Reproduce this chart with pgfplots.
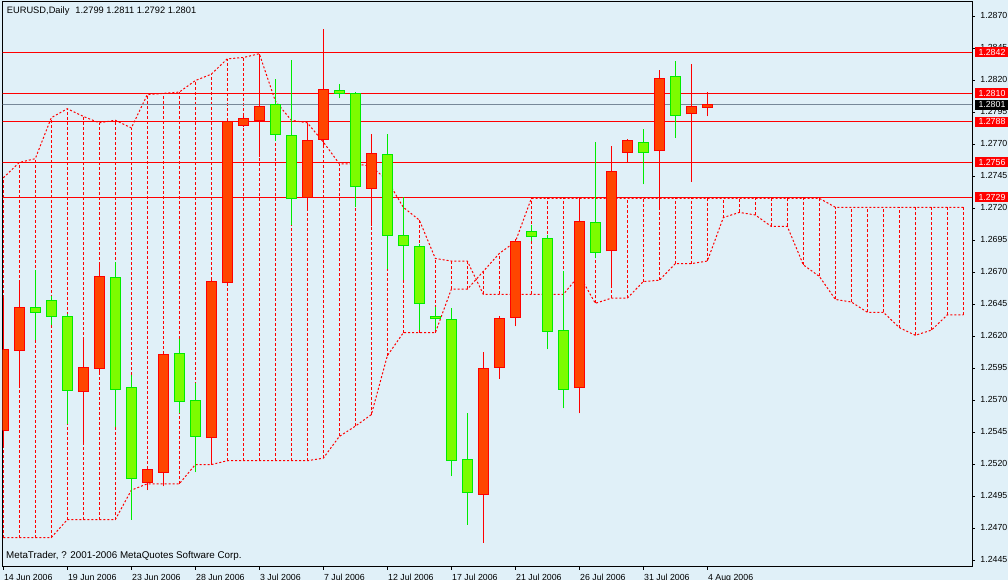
\documentclass[border=0pt]{standalone}
\usepackage{pgfplots}
\usepackage{pgfplotstable}
\pgfplotsset{compat=1.18}
\usepackage{fontspec}
\setmainfont{Liberation Sans}
\definecolor{bg}{RGB}{224,240,248}
\definecolor{upfill}{RGB}{255,69,0}
\definecolor{upline}{RGB}{255,0,0}
\definecolor{dnfill}{RGB}{124,252,0}
\definecolor{dnline}{RGB}{0,235,0}
\definecolor{bidline}{RGB}{119,136,153}
\newcommand\mtfont{\fontsize{8.8}{10}\selectfont}

% bullish candles (close > open), drawn red
\pgfplotstableread{
k o h l c
0 1.2547 1.2650 1.2534 1.2610
1 1.2609 1.2664 1.2581 1.2643
5 1.2577 1.2620 1.2538 1.2596
6 1.2595 1.2678 1.2592 1.2667
9 1.2506 1.2518 1.2500 1.2516
10 1.2514 1.2608 1.2503 1.2606
13 1.2541 1.2665 1.2520 1.2663
14 1.2662 1.2790 1.2660 1.2788
15 1.2785 1.2792 1.2784 1.2790
16 1.2789 1.2840 1.2760 1.2800
19 1.2729 1.2787 1.2720 1.2773
20 1.2774 1.2860 1.2767 1.2813
23 1.2736 1.2778 1.2706 1.2763
30 1.2497 1.2608 1.2459 1.2595
31 1.2596 1.2636 1.2587 1.2634
32 1.2635 1.2696 1.2628 1.2694
36 1.2580 1.2728 1.2560 1.2710
38 1.2687 1.2769 1.2660 1.2749
39 1.2764 1.2774 1.2756 1.2773
41 1.2765 1.2828 1.2719 1.2822
43 1.2794 1.2833 1.2741 1.2800
44 1.2799 1.2811 1.2792 1.2801
}\bull
% bearish candles (close < open), drawn green
\pgfplotstableread{
k o h l c
2 1.2643 1.2672 1.2617 1.2639
3 1.2648 1.2652 1.2629 1.2636
4 1.2636 1.2638 1.2552 1.2578
7 1.2666 1.2678 1.2549 1.2579
8 1.2580 1.2590 1.2477 1.2509
11 1.2607 1.2618 1.2560 1.2569
12 1.2570 1.2584 1.2514 1.2542
17 1.2801 1.2821 1.2773 1.2778
18 1.2777 1.2836 1.2707 1.2728
21 1.2812 1.2817 1.2806 1.2810
22 1.2810 1.2811 1.2721 1.2737
24 1.2762 1.2778 1.2673 1.2699
25 1.2699 1.2729 1.2664 1.2691
26 1.2690 1.2692 1.2625 1.2646
27 1.2636 1.2643 1.2625 1.2634
28 1.2633 1.2642 1.2511 1.2523
29 1.2524 1.2560 1.2473 1.2498
33 1.2702 1.2707 1.2695 1.2698
34 1.2697 1.2699 1.2610 1.2624
35 1.2625 1.2671 1.2564 1.2579
37 1.2709 1.2772 1.2681 1.2686
40 1.2772 1.2782 1.2739 1.2764
42 1.2823 1.2835 1.2775 1.2793
}\bear
% Ichimoku cloud: senkou span A and B
\pgfplotstableread{
k a b
0 1.2744 1.2463
1 1.2756 1.2463
2 1.2759 1.2463
3 1.2791 1.2463
4 1.2798 1.2477
5 1.2792 1.2477
6 1.2787 1.2477
7 1.2789 1.2477
8 1.2783 1.2500
9 1.2809 1.2505
10 1.2810 1.2505
11 1.2811 1.2505
12 1.2820 1.2520
13 1.2825 1.2520
14 1.2837 1.2523
15 1.2838 1.2523
16 1.2841 1.2523
17 1.2804 1.2523
18 1.2789 1.2523
19 1.2787 1.2523
20 1.2772 1.2525
21 1.2755 1.2542
22 1.2755 1.2550
23 1.2753 1.2559
24 1.2742 1.2605
25 1.2721 1.2623
26 1.2711 1.2623
27 1.2681 1.2623
28 1.2679 1.2657
29 1.2679 1.2657
30 1.2653 1.2671
31 1.2653 1.2685
32 1.2653 1.2694
33 1.2653 1.2728
34 1.2653 1.2728
35 1.2653 1.2728
36 1.2668 1.2728
37 1.2646 1.2728
38 1.2650 1.2728
39 1.2650 1.2728
40 1.2663 1.2728
41 1.2664 1.2728
42 1.2677 1.2728
43 1.2677 1.2728
44 1.2679 1.2728
45 1.2713 1.2728
46 1.2717 1.2728
47 1.2715 1.2728
48 1.2706 1.2728
49 1.2706 1.2728
50 1.2676 1.2728
51 1.2667 1.2728
52 1.2649 1.2721
53 1.2647 1.2721
54 1.2639 1.2721
55 1.2639 1.2721
56 1.2627 1.2721
57 1.2621 1.2721
58 1.2625 1.2721
59 1.2637 1.2721
60 1.2637 1.2721
}\cloud

\begin{document}
\begin{tikzpicture}
\fill[bg] (0,0) rectangle (1008pt,580pt);
\begin{axis}[
  at={(2.7pt,13.3pt)}, anchor=south west,
  scale only axis, width=969.3pt, height=564.7pt,
  xmin=-0.0375, xmax=60.54, ymin=1.2440219, ymax=1.2881391,
  axis line style={black, line width=1pt},
  tick style={black, line width=1pt},
  major tick length=3pt, tick align=outside,
  xtick pos=left, ytick pos=right, yticklabel pos=right,
  xtick={0,4,8,12,16,20,24,28,32,36,40,44},
  xticklabels={14 Jun 2006,19 Jun 2006,23 Jun 2006,28 Jun 2006,3 Jul 2006,7 Jul 2006,12 Jul 2006,17 Jul 2006,21 Jul 2006,26 Jul 2006,31 Jul 2006,4 Aug 2006},
  ytick={1.2445,1.2470,1.2495,1.2520,1.2545,1.2570,1.2595,1.2620,1.2645,1.2670,1.2695,1.2720,1.2745,1.2770,1.2795,1.2820,1.2845,1.2870},
  scaled y ticks=false,
  minor tick num=0,
  xticklabel style={anchor=base west, inner sep=0pt, yshift=-10.4pt, xshift=0.6pt, font=\mtfont},
  yticklabel style={anchor=west, inner sep=0pt, xshift=5.2pt, yshift=1.2pt, font=\mtfont},
  /pgf/number format/fixed, /pgf/number format/fixed zerofill,
  /pgf/number format/precision=4, /pgf/number format/assume math mode=true,
]
% cloud verticals
\addplot[draw=none, mark=none, forget plot,
  error bars/.cd, y dir=plus, y explicit, error mark=none,
  error bar style={draw=upline, line width=1pt, dash pattern=on 3pt off 2pt}]
  table[x=k, y expr={min(\thisrow{a},\thisrow{b})}, y error expr={abs(\thisrow{a}-\thisrow{b})}] {\cloud};
% span lines
\addplot[upline, line width=1pt, dash pattern=on 2pt off 2pt, mark=none] table[x=k, y=a] {\cloud};
\addplot[upline, line width=1pt, dash pattern=on 2pt off 2pt, mark=none] table[x=k, y=b] {\cloud};
% horizontal lines
\addplot[bidline, line width=1pt, mark=none] coordinates {(-1,1.2801) (62,1.2801)};
\pgfplotsinvokeforeach{1.2842,1.2810,1.2788,1.2756,1.2729}{
  \addplot[upline, line width=1pt, mark=none] coordinates {(-1,#1) (62,#1)};
}
% wicks
\addplot[draw=none, mark=none, forget plot,
  error bars/.cd, y dir=plus, y explicit, error mark=none,
  error bar style={draw=upline, solid, line width=1pt}]
  table[x=k, y=l, y error expr={\thisrow{h}-\thisrow{l}}] {\bull};
\addplot[draw=none, mark=none, forget plot,
  error bars/.cd, y dir=plus, y explicit, error mark=none,
  error bar style={draw=dnline, solid, line width=1pt}]
  table[x=k, y=l, y error expr={\thisrow{h}-\thisrow{l}}] {\bear};
% bodies: border then fill
\addplot[draw=none, mark=none, forget plot,
  error bars/.cd, y dir=plus, y explicit, error mark=none,
  error bar style={draw=upline, solid, line width=10.7pt}]
  table[x=k, y expr={\thisrow{o}-0.00004}, y error expr={\thisrow{c}-\thisrow{o}+0.00008}] {\bull};
\addplot[draw=none, mark=none, forget plot,
  error bars/.cd, y dir=plus, y explicit, error mark=none,
  error bar style={draw=upfill, solid, line width=8.7pt}]
  table[x=k, y expr={\thisrow{o}+0.00004}, y error expr={\thisrow{c}-\thisrow{o}-0.00008}] {\bull};
\addplot[draw=none, mark=none, forget plot,
  error bars/.cd, y dir=plus, y explicit, error mark=none,
  error bar style={draw=dnline, solid, line width=10.7pt}]
  table[x=k, y expr={\thisrow{c}-0.00004}, y error expr={\thisrow{o}-\thisrow{c}+0.00008}] {\bear};
\addplot[draw=none, mark=none, forget plot,
  error bars/.cd, y dir=plus, y explicit, error mark=none,
  error bar style={draw=dnfill, solid, line width=8.7pt}]
  table[x=k, y expr={\thisrow{c}+0.00004}, y error expr={\thisrow{o}-\thisrow{c}-0.00008}] {\bear};
% texts
\node[anchor=base west, inner sep=0pt, font=\fontsize{9.3}{11}\selectfont] at ([xshift=4pt, yshift=-12pt]rel axis cs:0,1)
  {EURUSD,Daily\hspace{6pt}1.2799 1.2811 1.2792 1.2801};
\node[anchor=base west, inner sep=0pt, font=\fontsize{9.8}{11}\selectfont] at ([xshift=3.3pt, yshift=8.4pt]rel axis cs:0,0)
  {MetaTrader, ? 2001-2006 MetaQuotes Software Corp.};
\coordinate (R1) at (axis cs:60.54,1.2842);
\coordinate (R2) at (axis cs:60.54,1.2810);
\coordinate (R3) at (axis cs:60.54,1.2801);
\coordinate (R4) at (axis cs:60.54,1.2788);
\coordinate (R5) at (axis cs:60.54,1.2756);
\coordinate (R6) at (axis cs:60.54,1.2729);
\end{axis}
\foreach \c/\t/\f in {R1/1.2842/upline, R2/1.2810/upline, R3/1.2801/black, R4/1.2788/upline, R5/1.2756/upline, R6/1.2729/upline}{
  \node[fill=\f, text=white, anchor=west, inner xsep=3.3pt, inner ysep=0pt, minimum height=10pt, font=\mtfont] at ([xshift=3pt]\c) {\t};
}
\pgfresetboundingbox
\path[use as bounding box] (0,0) rectangle (1008pt,580pt);
\end{tikzpicture}
\end{document}
